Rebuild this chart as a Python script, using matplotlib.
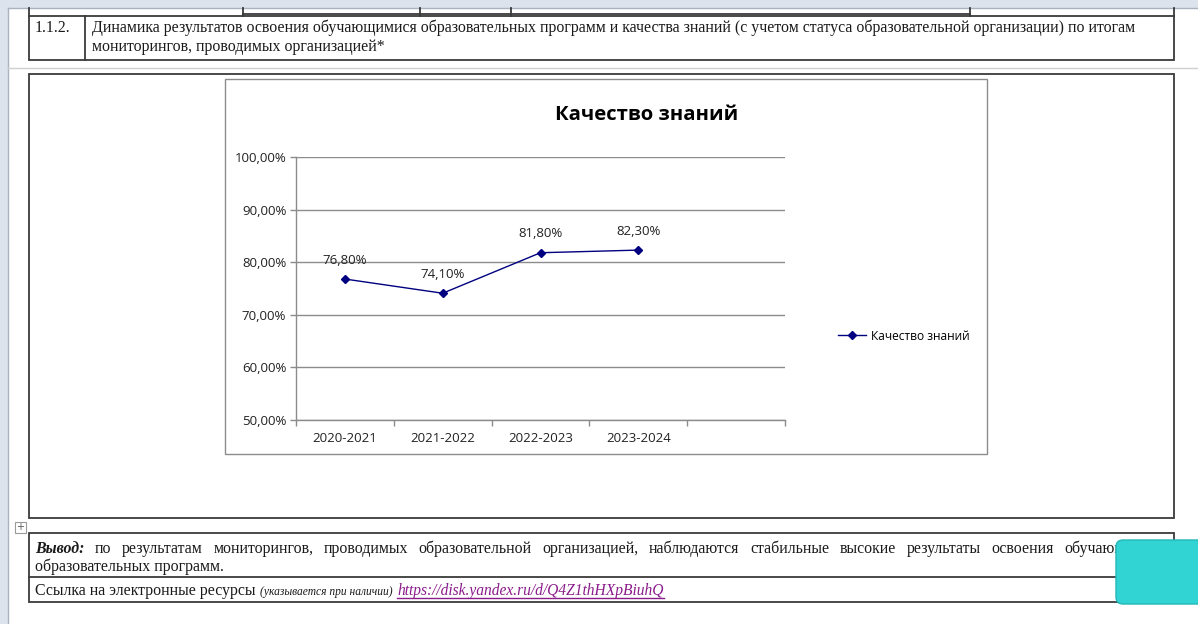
import matplotlib
matplotlib.use('Agg')
import matplotlib.pyplot as plt
from matplotlib.patches import Rectangle, FancyBboxPatch
from matplotlib.ticker import FixedLocator, FuncFormatter, NullFormatter

# ---------------- data ----------------
categories = ["2020-2021", "2021-2022", "2022-2023", "2023-2024", ""]
values = [76.8, 74.1, 81.8, 82.3]
series_name = "Качество знаний"
chart_title = "Качество знаний"
y_ticks = [50, 60, 70, 80, 90, 100]

header_num = "1.1.2."
header_line1 = ("Динамика результатов освоения обучающимися образовательных программ и качества "
                "знаний (с учетом статуса образовательной организации) по итогам")
header_line2 = "мониторингов, проводимых организацией*"
conclusion_label = "Вывод:"
conclusion_line1 = ("по результатам мониторингов, проводимых образовательной организацией, "
                    "наблюдаются стабильные высокие результаты освоения обучающимися")
conclusion_line2 = "образовательных программ."
link_prefix = "Ссылка на электронные ресурсы"
link_note = "(указывается при наличии)"
link_url = "https://disk.yandex.ru/d/Q4Z1thHXpBiuhQ"

# ---------------- figure ----------------
W, H = 1198, 624
fig = plt.figure(figsize=(W / 100, H / 100), dpi=100)
fig.patch.set_facecolor('white')
renderer = fig.canvas.get_renderer()

doc = fig.add_axes([0, 0, 1, 1])
doc.set_xlim(0, W)
doc.set_ylim(H, 0)
doc.axis('off')

SERIF = ['Liberation Serif', 'DejaVu Serif']
SANS = ['Open Sans', 'DejaVu Sans']


def text_w(s, size, **kw):
    t = fig.text(0, 0, s, fontsize=size, **kw)
    w = t.get_window_extent(renderer).width
    t.remove()
    return w


def fit(s, target, **kw):
    return 10 * target / text_w(s, 10, **kw)


# window chrome
doc.add_patch(Rectangle((0, 0), W, 8, fc='#dce3ec', ec='none', zorder=1))
doc.add_patch(Rectangle((0, 8), 8, H - 8, fc='#dce3ec', ec='none', zorder=1))
doc.plot([8, 8], [8, H], color='#a9b3c0', lw=1, zorder=2)
doc.plot([8, W], [8, 8], color='#a9b3c0', lw=1, zorder=2)

LC = '#3a3a3a'
LW = 1.3
XL, XR = 29, 1174

# previous row remnants
for x in [XL, 243, 420, 511, 970, XR]:
    doc.plot([x, x], [8, 16], color=LC, lw=LW, zorder=3)
doc.plot([243, 970], [14, 14], color=LC, lw=LW, zorder=3)

# header row
doc.add_patch(Rectangle((XL, 16), XR - XL, 44, fc='none', ec=LC, lw=LW, zorder=3))
doc.plot([85, 85], [16, 60], color=LC, lw=LW, zorder=3)
doc.plot([8, W], [68, 68], color='#cfcfcf', lw=1, zorder=2)

# chart cell
doc.add_patch(Rectangle((XL, 74), XR - XL, 444, fc='none', ec=LC, lw=LW, zorder=3))
# chart area
doc.add_patch(Rectangle((225, 79), 762, 375, fc='white', ec='#8c8c8c', lw=1, zorder=3))

# move handle icon
doc.add_patch(Rectangle((15, 522), 11, 11, fc='white', ec='#9a9a9a', lw=0.8, zorder=3))
doc.text(20.5, 527.5, '+', fontsize=7, ha='center', va='center', color='#555555', zorder=4)

# conclusion box
doc.add_patch(Rectangle((XL, 533), XR - XL, 69, fc='none', ec=LC, lw=LW, zorder=3))
doc.plot([XL, XR], [577, 577], color=LC, lw=LW, zorder=3)

TC = '#1a1a1a'
fs_doc = fit(header_line1, 1045, family=SERIF)

doc.text(35, 32, header_num, fontsize=fs_doc, family=SERIF, color=TC, va='baseline', zorder=4)
doc.text(92, 32, header_line1, fontsize=fs_doc, family=SERIF, color=TC, va='baseline', zorder=4)
doc.text(92, 51, header_line2, fontsize=fs_doc, family=SERIF, color=TC, va='baseline', zorder=4)

# justified conclusion line
words = [conclusion_label] + conclusion_line1.split()
styles = [dict(weight='bold', style='italic')] + [dict()] * (len(words) - 1)
widths = [text_w(w, fs_doc, family=SERIF, **st) for w, st in zip(words, styles)]
x0, x1 = 35, 1168
gap = (x1 - x0 - sum(widths)) / (len(words) - 1)
x = x0
for w, st, wd in zip(words, styles, widths):
    doc.text(x, 553, w, fontsize=fs_doc, family=SERIF, color=TC, va='baseline', zorder=4, **st)
    x += wd + gap
doc.text(35, 571, conclusion_line2, fontsize=fs_doc, family=SERIF, color=TC, va='baseline', zorder=4)

# link line
doc.text(35, 595, link_prefix, fontsize=fs_doc, family=SERIF, color=TC, va='baseline', zorder=4)
xp = 35 + text_w(link_prefix + ' ', fs_doc, family=SERIF)
fs_note = fit(link_note, 133, family=SERIF, style='italic')
doc.text(xp, 595, link_note, fontsize=fs_note, family=SERIF, style='italic', color=TC,
         va='baseline', zorder=4)
xu = xp + text_w(link_note, fs_note, family=SERIF, style='italic') + 5
fs_url = fit(link_url, 268, family=SERIF, style='italic')
doc.text(xu, 595, link_url, fontsize=fs_url, family=SERIF, style='italic', color='#8b1a8b',
         va='baseline', zorder=4)
wu = text_w(link_url, fs_url, family=SERIF, style='italic')
doc.plot([xu, xu + wu], [597.5, 597.5], color='#8b1a8b', lw=1, zorder=4)

# teal overlay button
doc.add_patch(FancyBboxPatch((1116, 540), 100, 64, boxstyle='round,pad=0,rounding_size=7',
                             fc='#31d3d3', ec='#20b8b8', lw=1, zorder=6))

# ---------------- chart ----------------
L, R, T, B = 296, 785, 157, 420
ax = fig.add_axes([L / W, 1 - B / H, (R - L) / W, (B - T) / H])
ax.set_facecolor('none')
NAVY = '#000080'
GRID = '#8c8c8c'
xs = list(range(len(values)))
ax.plot(xs, values, color=NAVY, lw=1, marker='D', ms=4, label=series_name, zorder=3)
ax.set_xlim(-0.5, len(categories) - 0.5)
ax.set_ylim(y_ticks[0], y_ticks[-1])

pct = lambda v: f"{v:.2f}%".replace('.', ',')
fs_tick = fit(pct(100), 53, family=SANS)
fs_cat = fit(categories[0], 65, family=SANS)
fs_lab = fit(pct(values[0]), 45, family=SANS)

ax.yaxis.set_major_locator(FixedLocator(y_ticks))
ax.yaxis.set_major_formatter(FuncFormatter(lambda v, p: pct(v)))
ax.yaxis.grid(True, color=GRID, lw=1)
ax.set_axisbelow(True)
ax.tick_params(axis='y', length=4, width=1, color=GRID, direction='out', pad=3,
               labelsize=fs_tick, labelcolor='#222222')
for lab in ax.get_yticklabels():
    lab.set_family(SANS)

ax.xaxis.set_major_locator(FixedLocator([i - 0.5 for i in range(len(categories) + 1)]))
ax.xaxis.set_major_formatter(NullFormatter())
ax.xaxis.set_minor_locator(FixedLocator(list(range(len(categories)))))
ax.xaxis.set_minor_formatter(FuncFormatter(lambda v, p: categories[int(round(v))]))
ax.tick_params(axis='x', which='major', length=4, width=1, color=GRID, direction='out')
ax.tick_params(axis='x', which='minor', length=0, pad=9, labelsize=fs_cat, labelcolor='#222222')
for lab in ax.get_xticklabels(minor=True):
    lab.set_family(SANS)

for s in ['top', 'right']:
    ax.spines[s].set_visible(False)
for s in ['left', 'bottom']:
    ax.spines[s].set_color(GRID)
    ax.spines[s].set_linewidth(1)

for xi, v in zip(xs, values):
    ax.annotate(pct(v), (xi, v), xytext=(0, 19), textcoords='offset pixels',
                ha='center', va='center', fontsize=fs_lab, family=SANS, color='#222222')

fs_title = fit(chart_title, 184, family=SANS, weight='bold')
fig.text(647 / W, 1 - 115 / H, chart_title, fontsize=fs_title, family=SANS, weight='bold',
         ha='center', va='center', color='black')

fs_leg = fit(series_name, 99, family=SANS)
ax.legend(loc='center left', bbox_to_anchor=(838 / W, 1 - 336 / H), bbox_transform=fig.transFigure,
          frameon=False, borderpad=0, borderaxespad=0, handlelength=28 / (fs_leg * 100 / 72),
          handletextpad=5 / (fs_leg * 100 / 72), prop={'family': SANS, 'size': fs_leg})

fig.savefig('out.png', dpi=100, facecolor='white')
